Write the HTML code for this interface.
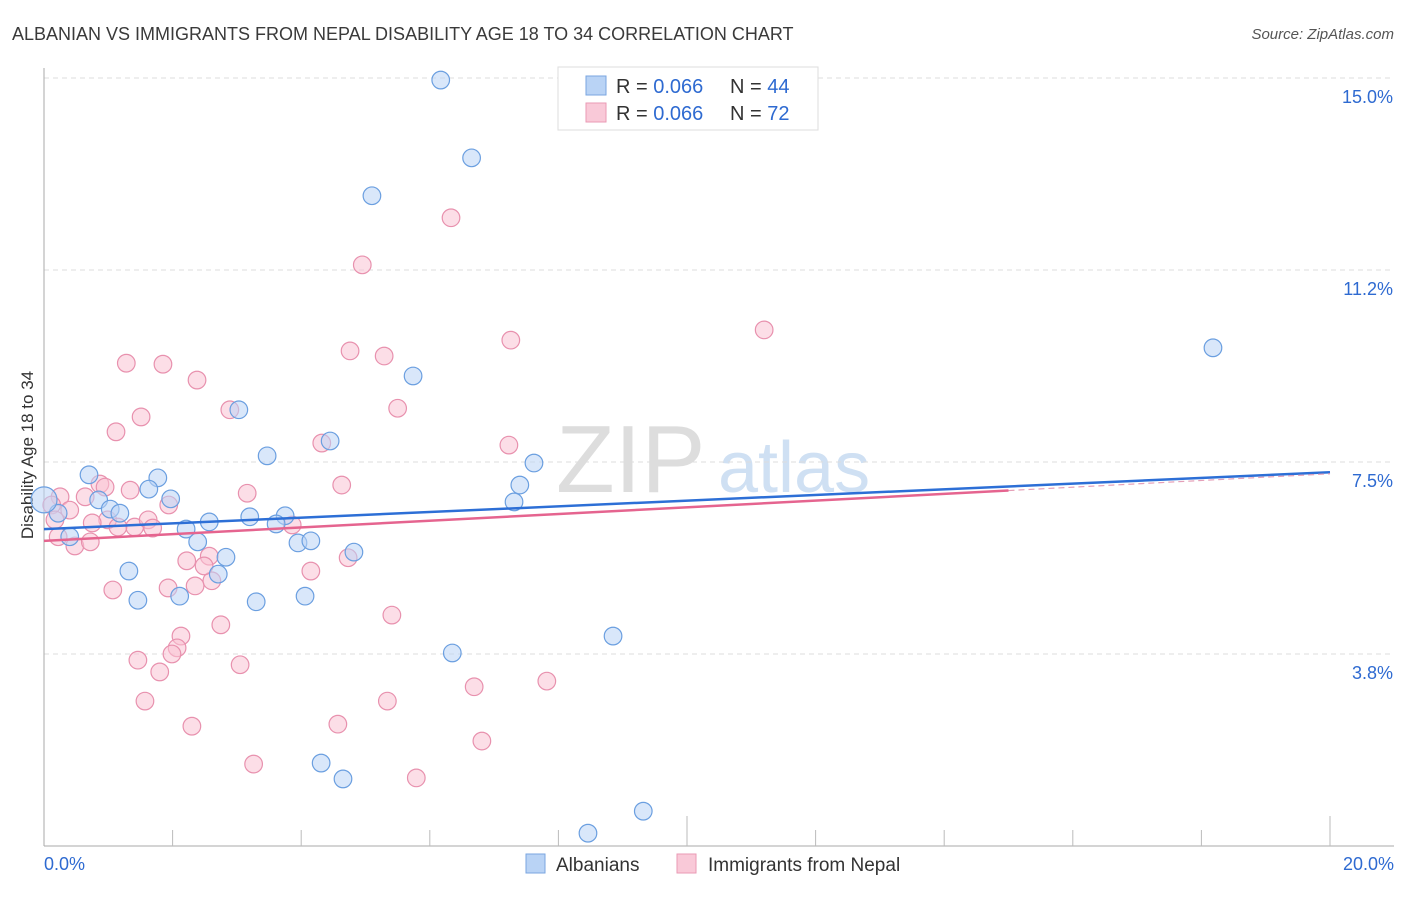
<!DOCTYPE html>
<html><head><meta charset="utf-8"><style>
body{margin:0;background:#fff;font-family:"Liberation Sans",sans-serif}
svg text{font-family:"Liberation Sans",sans-serif}
</style></head><body>
<svg id="c" width="1406" height="892">
<text x="12" y="40" font-size="18" fill="#3a3a3a">ALBANIAN VS IMMIGRANTS FROM NEPAL DISABILITY AGE 18 TO 34 CORRELATION CHART</text>
<text x="1394" y="39" font-size="15" fill="#555" font-style="italic" text-anchor="end">Source: ZipAtlas.com</text>
<text x="33" y="455" font-size="17" fill="#333" text-anchor="middle" transform="rotate(-90 33 455)">Disability Age 18 to 34</text>
<text x="556" y="492" font-size="96" fill="#ddd" font-family="Liberation Serif">ZIP</text>
<text x="718" y="492" font-size="72" fill="#cfe0f3">atlas</text>
<g id="grid"></g><g id="marks"></g>
<g>
<rect x="558" y="67" width="260" height="63" fill="#fff" stroke="#ddd"/>
<rect x="586" y="76" width="20" height="19" fill="#b9d3f5" stroke="#7aa6e0"/>
<text x="616" y="93" font-size="20" fill="#333">R = <tspan fill="#2e6ad1">0.066</tspan></text>
<text x="730" y="93" font-size="20" fill="#333">N = <tspan fill="#2e6ad1">44</tspan></text>
<rect x="586" y="103" width="20" height="19" fill="#f9c9d8" stroke="#ea9ab4"/>
<text x="616" y="120" font-size="20" fill="#333">R = <tspan fill="#2e6ad1">0.066</tspan></text>
<text x="730" y="120" font-size="20" fill="#333">N = <tspan fill="#2e6ad1">72</tspan></text>
</g>
<g>
<rect x="526" y="854" width="19" height="19" fill="#b9d3f5" stroke="#7aa6e0"/>
<text x="556" y="871" font-size="19" fill="#333">Albanians</text>
<rect x="677" y="854" width="19" height="19" fill="#f9c9d8" stroke="#ea9ab4"/>
<text x="708" y="871" font-size="19" fill="#333">Immigrants from Nepal</text>
</g>
</svg>
<script>
const yTicks=[15.0,11.25,7.5,3.75];
const yTickLabels=["15.0%","11.2%","7.5%","3.8%"];
const xTickLabels=["0.0%","20.0%"];
const blueX=[6.17,6.65,5.1,18.18,5.74,3.03,4.45,3.47,7.62,0.7,1.77,1.63,7.4,1.97,0.85,7.31,1.03,1.18,0.22,2.57,3.2,3.75,3.61,2.21,2.39,3.95,4.15,0.4,4.82,2.83,1.32,2.71,1.46,2.11,3.3,4.06,8.85,6.35,4.31,4.65,9.32,8.46,0.0];
const blueY=[14.96,13.44,12.70,9.73,9.18,8.52,7.91,7.62,7.48,7.25,7.19,6.97,7.05,6.78,6.76,6.72,6.58,6.50,6.50,6.33,6.43,6.45,6.29,6.19,5.94,5.92,5.96,6.04,5.74,5.64,5.37,5.31,4.80,4.88,4.77,4.88,4.10,3.77,1.62,1.31,0.68,0.25,6.76];
const pinkX=[6.33,4.95,11.2,7.26,4.76,5.29,1.28,1.85,2.38,5.5,2.89,1.51,1.12,4.32,7.23,4.63,3.16,1.34,0.87,0.64,0.95,0.25,0.12,0.4,0.99,1.41,1.15,1.62,1.94,1.69,0.75,0.48,0.72,3.86,0.17,0.22,4.73,4.15,2.22,2.57,2.61,2.49,1.93,2.35,1.07,5.41,2.75,2.13,2.07,1.99,1.46,1.8,3.05,6.69,7.82,1.57,5.34,2.3,4.57,6.81,3.26,5.79];
const pinkY=[12.27,11.35,10.08,9.88,9.67,9.57,9.43,9.41,9.10,8.55,8.52,8.38,8.09,7.87,7.83,7.05,6.89,6.95,7.07,6.82,7.01,6.82,6.66,6.56,6.37,6.23,6.23,6.37,6.66,6.21,6.31,5.86,5.94,6.27,6.37,6.04,5.63,5.37,5.57,5.66,5.18,5.47,5.04,5.08,5.00,4.51,4.32,4.10,3.87,3.75,3.63,3.40,3.54,3.11,3.22,2.83,2.83,2.34,2.38,2.05,1.60,1.33];
const trendBlue=[6.19,7.30];
const trendPink=[5.96,7.27];
const X=v=>44+v*64.3, Y=v=>78+(15-v)*51.2;
const NS="http://www.w3.org/2000/svg";
function mk(t,a,p){const e=document.createElementNS(NS,t);for(const k in a)e.setAttribute(k,a[k]);p.appendChild(e);return e;}
const g=document.getElementById('grid'), m=document.getElementById('marks');
yTicks.forEach((v,i)=>{
 const l=mk('line',{x1:44,x2:1394,y1:Y(v),y2:Y(v),stroke:'#ddd','stroke-dasharray':'5,4'},g);
 
 
 const t=mk('text',{x:1393,y:Y(v)+25,'font-size':18,fill:'#2e6ad1','text-anchor':'end'},g);t.textContent=yTickLabels[i];
 
 
});
mk('line',{x1:44,x2:44,y1:68,y2:846,stroke:'#aaa'},g);
mk('line',{x1:44,x2:1394,y1:846,y2:846,stroke:'#aaa'},g);
for(let i=1;i<=10;i++){const x=44+i*128.6;const tl=mk('line',{x1:x,x2:x,y1:(i==5||i==10)?816:830,y2:846,stroke:'#bbb'},g);
 
 }
[[0,'start',44],[20,'end',1394]].forEach((d,i)=>{const t=mk('text',{x:d[2],y:870,'font-size':18,fill:'#2e6ad1','text-anchor':d[1]},g);t.textContent=xTickLabels[i];
 
 });
function pts(xs,ys,fill,stroke,name){xs.forEach((x,i)=>{const c=mk('circle',{cx:X(x),cy:Y(ys[i]),r:(x==0?13:8.8),fill:fill,'fill-opacity':0.55,stroke:stroke,'stroke-width':1.2},m);
 
 });}
pts(pinkX,pinkY,'#f9c3d4','#e891ae','point-nepal');
pts(blueX,blueY,'#b9d3f5','#6b9fe0','point-albanian');
const bl=mk('line',{x1:X(0),y1:Y(trendBlue[0]),x2:X(20),y2:Y(trendBlue[1]),stroke:'#2d6fd6','stroke-width':2.5},m);


const py=f=>trendPink[0]+(trendPink[1]-trendPink[0])*f;
const pl=mk('line',{x1:X(0),y1:Y(py(0)),x2:X(15),y2:Y(py(0.75)),stroke:'#e5648f','stroke-width':2.5},m);


const pd=mk('line',{x1:X(15),y1:Y(py(0.75)),x2:X(20),y2:Y(py(1)),stroke:'#e5a0b8','stroke-width':1.2,'stroke-dasharray':'6,4'},m);


</script>
</body></html>
